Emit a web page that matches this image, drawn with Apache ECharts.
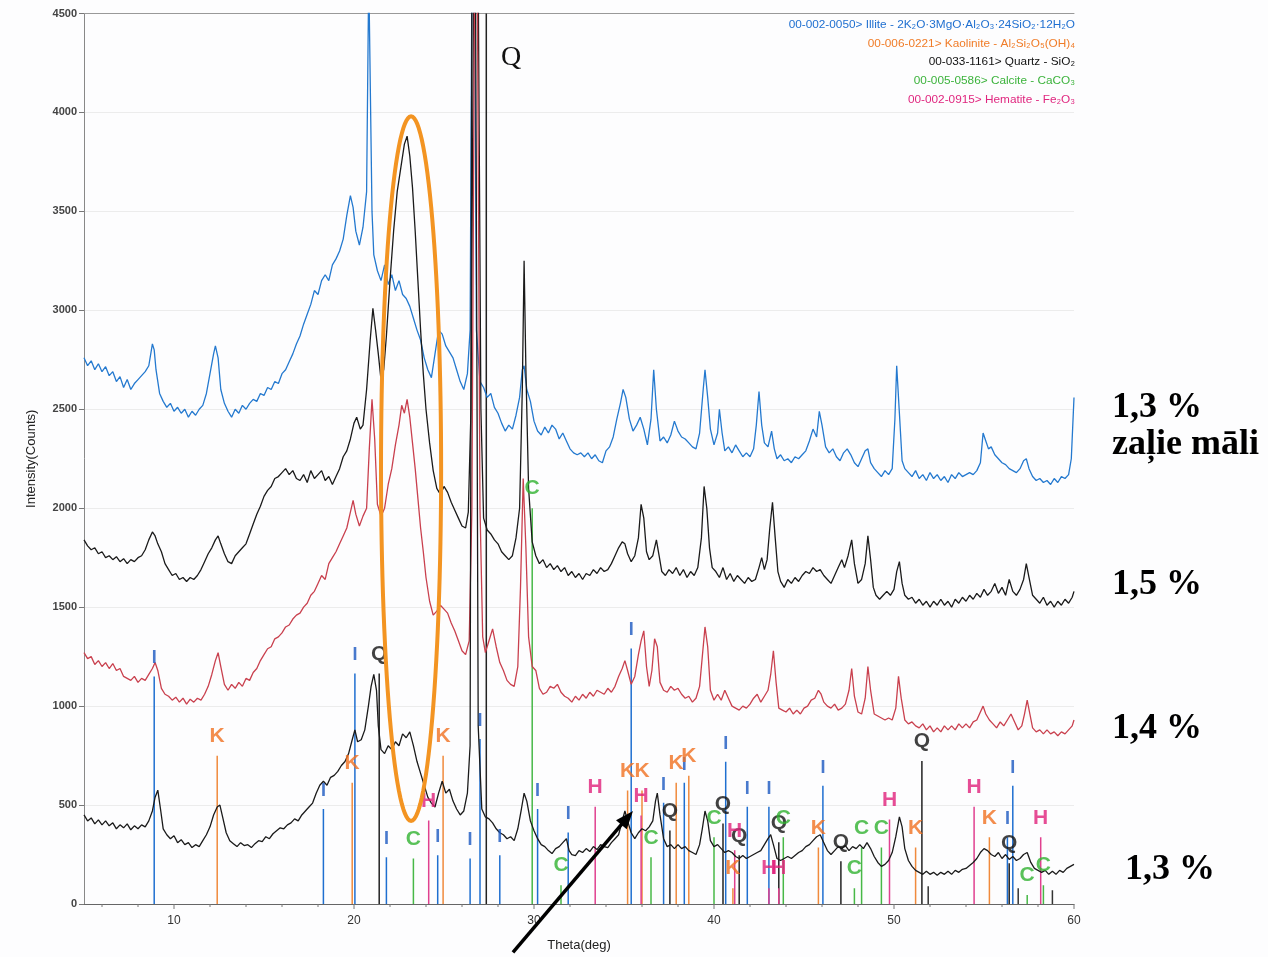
<!DOCTYPE html>
<html><head><meta charset="utf-8">
<script src="https://cdn.jsdelivr.net/npm/echarts/dist/echarts.min.js"></script>
<style>html,body{margin:0;padding:0;background:#fff}#c{width:1268px;height:957px}</style>
</head><body><div id="c"></div>
<script>
// ---- traces: [theta(deg), intensity(counts)] ----
const blueTrace = [[5.0,2760],[5.2,2720],[5.4,2745],[5.6,2700],[5.8,2730],[6.0,2690],[6.2,2715],[6.4,2670],[6.6,2690],[6.8,2640],[7.0,2665],[7.2,2610],[7.4,2650],[7.6,2600],[7.8,2630],[8.0,2650],[8.2,2670],[8.4,2690],[8.6,2720],[8.8,2830],[8.9,2800],[9.0,2700],[9.2,2580],[9.4,2540],[9.6,2510],[9.8,2530],[10.0,2490],[10.2,2510],[10.4,2480],[10.6,2500],[10.8,2460],[11.0,2490],[11.2,2470],[11.4,2500],[11.6,2520],[11.8,2580],[12.0,2680],[12.2,2780],[12.3,2820],[12.45,2760],[12.6,2600],[12.8,2530],[13.0,2490],[13.2,2460],[13.4,2500],[13.6,2480],[13.8,2520],[14.0,2500],[14.2,2530],[14.4,2550],[14.6,2540],[14.8,2580],[15.0,2570],[15.2,2610],[15.4,2600],[15.6,2640],[15.8,2630],[16.0,2680],[16.2,2700],[16.4,2740],[16.6,2780],[16.8,2830],[17.0,2870],[17.2,2930],[17.4,2980],[17.6,3030],[17.8,3100],[18.0,3080],[18.2,3150],[18.4,3180],[18.6,3150],[18.8,3230],[19.0,3260],[19.2,3300],[19.4,3360],[19.6,3480],[19.8,3580],[19.95,3520],[20.1,3400],[20.3,3330],[20.5,3420],[20.7,3600],[20.82,4700],[20.9,4700],[21.0,3500],[21.1,3280],[21.3,3200],[21.5,3150],[21.7,3230],[21.9,3130],[22.1,3180],[22.3,3100],[22.5,3150],[22.7,3080],[22.9,3060],[23.1,3020],[23.3,2960],[23.5,2900],[23.7,2850],[23.9,2760],[24.1,2700],[24.3,2660],[24.5,2780],[24.7,2900],[24.9,2880],[25.1,2820],[25.3,2790],[25.5,2760],[25.7,2700],[25.9,2640],[26.1,2600],[26.3,2680],[26.45,2900],[26.55,4700],[26.7,4700],[26.8,2900],[27.0,2640],[27.2,2610],[27.4,2560],[27.6,2580],[27.8,2510],[28.0,2480],[28.2,2430],[28.4,2390],[28.6,2420],[28.8,2400],[29.0,2470],[29.2,2560],[29.35,2700],[29.45,2720],[29.6,2600],[29.8,2540],[30.0,2440],[30.2,2390],[30.4,2370],[30.6,2410],[30.8,2380],[31.0,2420],[31.2,2400],[31.4,2350],[31.6,2380],[31.8,2340],[32.0,2300],[32.2,2280],[32.4,2270],[32.6,2280],[32.8,2260],[33.0,2280],[33.2,2250],[33.4,2270],[33.6,2240],[33.8,2230],[34.0,2290],[34.2,2310],[34.4,2360],[34.6,2450],[34.8,2530],[34.95,2600],[35.1,2560],[35.3,2450],[35.5,2390],[35.7,2420],[35.9,2460],[36.1,2400],[36.3,2320],[36.5,2450],[36.65,2700],[36.8,2500],[37.0,2340],[37.2,2360],[37.4,2330],[37.6,2370],[37.8,2440],[38.0,2390],[38.2,2360],[38.4,2350],[38.6,2330],[38.8,2310],[39.0,2300],[39.2,2380],[39.4,2600],[39.5,2700],[39.65,2560],[39.8,2400],[40.0,2320],[40.2,2380],[40.3,2500],[40.45,2380],[40.6,2290],[40.8,2310],[41.0,2280],[41.2,2320],[41.4,2290],[41.6,2260],[41.8,2280],[42.0,2260],[42.2,2300],[42.35,2420],[42.5,2590],[42.65,2420],[42.8,2330],[43.0,2310],[43.2,2390],[43.35,2300],[43.5,2250],[43.7,2270],[43.9,2240],[44.1,2250],[44.3,2230],[44.5,2260],[44.7,2250],[44.9,2270],[45.1,2290],[45.3,2340],[45.5,2400],[45.7,2360],[45.85,2490],[46.0,2420],[46.2,2310],[46.4,2280],[46.6,2300],[46.8,2260],[47.0,2240],[47.2,2280],[47.4,2300],[47.6,2270],[47.8,2230],[48.0,2210],[48.2,2250],[48.4,2290],[48.55,2300],[48.7,2230],[48.9,2200],[49.1,2180],[49.3,2160],[49.5,2190],[49.7,2170],[49.9,2200],[50.05,2450],[50.15,2720],[50.3,2480],[50.45,2240],[50.6,2200],[50.8,2180],[51.0,2160],[51.2,2190],[51.4,2150],[51.6,2170],[51.8,2140],[52.0,2180],[52.2,2150],[52.4,2170],[52.6,2140],[52.8,2160],[53.0,2130],[53.2,2170],[53.4,2150],[53.6,2180],[53.8,2160],[54.0,2170],[54.2,2180],[54.4,2170],[54.6,2190],[54.8,2230],[54.95,2380],[55.1,2340],[55.25,2300],[55.4,2310],[55.6,2270],[55.8,2250],[56.0,2230],[56.2,2220],[56.4,2200],[56.6,2190],[56.8,2180],[57.0,2200],[57.2,2240],[57.35,2250],[57.5,2200],[57.7,2160],[57.9,2140],[58.1,2150],[58.3,2130],[58.5,2140],[58.7,2120],[58.9,2150],[59.1,2130],[59.3,2160],[59.5,2150],[59.7,2170],[59.85,2250],[60.0,2560]];

const black15Trace = [[5.0,1840],[5.2,1810],[5.4,1790],[5.6,1800],[5.8,1770],[6.0,1780],[6.2,1750],[6.4,1760],[6.6,1740],[6.8,1755],[7.0,1730],[7.2,1745],[7.4,1720],[7.6,1740],[7.8,1730],[8.0,1750],[8.2,1760],[8.4,1790],[8.6,1840],[8.8,1880],[8.95,1860],[9.1,1820],[9.3,1780],[9.5,1720],[9.7,1690],[9.9,1660],[10.1,1670],[10.3,1640],[10.5,1650],[10.7,1630],[10.9,1650],[11.1,1640],[11.3,1660],[11.5,1690],[11.7,1730],[11.9,1770],[12.1,1800],[12.3,1840],[12.45,1860],[12.6,1820],[12.8,1770],[13.0,1730],[13.2,1720],[13.4,1760],[13.6,1780],[13.8,1800],[14.0,1820],[14.2,1870],[14.4,1920],[14.6,1970],[14.8,2010],[15.0,2060],[15.2,2090],[15.4,2110],[15.6,2150],[15.8,2160],[16.0,2180],[16.2,2200],[16.4,2170],[16.6,2190],[16.8,2150],[17.0,2140],[17.2,2170],[17.4,2130],[17.6,2190],[17.8,2150],[18.0,2170],[18.2,2190],[18.4,2140],[18.6,2160],[18.8,2120],[19.0,2160],[19.2,2200],[19.4,2260],[19.6,2290],[19.8,2350],[20.0,2430],[20.15,2460],[20.35,2400],[20.5,2420],[20.7,2600],[20.9,2850],[21.05,3010],[21.2,2900],[21.35,2780],[21.5,2650],[21.65,2700],[21.8,2870],[22.0,3150],[22.2,3400],[22.4,3600],[22.6,3720],[22.8,3840],[22.95,3880],[23.1,3780],[23.25,3620],[23.4,3400],[23.55,3150],[23.7,2900],[23.85,2680],[24.0,2500],[24.2,2330],[24.4,2190],[24.6,2100],[24.8,2070],[25.0,2110],[25.2,2080],[25.4,2030],[25.6,1990],[25.8,1950],[26.0,1910],[26.2,1900],[26.35,1980],[26.5,2500],[26.65,4700],[26.9,4700],[27.05,2500],[27.2,1950],[27.4,1890],[27.6,1870],[27.8,1840],[28.0,1820],[28.2,1780],[28.4,1760],[28.6,1740],[28.8,1760],[29.0,1850],[29.2,2000],[29.35,2600],[29.45,3250],[29.55,2700],[29.7,2100],[29.9,1830],[30.1,1760],[30.3,1720],[30.5,1740],[30.7,1700],[30.9,1720],[31.1,1690],[31.3,1710],[31.5,1680],[31.7,1700],[31.9,1660],[32.1,1680],[32.3,1650],[32.5,1670],[32.7,1640],[32.9,1670],[33.1,1660],[33.3,1690],[33.5,1670],[33.7,1700],[33.9,1680],[34.1,1690],[34.3,1720],[34.5,1760],[34.7,1800],[34.9,1830],[35.05,1820],[35.2,1770],[35.4,1730],[35.6,1760],[35.8,1850],[35.95,2020],[36.1,1950],[36.25,1780],[36.4,1740],[36.6,1760],[36.8,1840],[36.95,1760],[37.1,1680],[37.3,1660],[37.5,1690],[37.7,1670],[37.9,1700],[38.1,1660],[38.3,1690],[38.5,1650],[38.7,1680],[38.9,1660],[39.1,1700],[39.3,1850],[39.45,2110],[39.6,2000],[39.75,1800],[39.9,1700],[40.1,1680],[40.3,1650],[40.5,1700],[40.7,1640],[40.9,1670],[41.1,1630],[41.3,1660],[41.5,1640],[41.7,1620],[41.9,1650],[42.1,1630],[42.3,1640],[42.5,1700],[42.65,1750],[42.8,1690],[42.95,1740],[43.1,1900],[43.25,2030],[43.4,1850],[43.55,1680],[43.7,1630],[43.9,1600],[44.1,1640],[44.3,1620],[44.5,1650],[44.7,1630],[44.9,1660],[45.1,1680],[45.3,1670],[45.5,1700],[45.7,1680],[45.9,1690],[46.1,1660],[46.3,1640],[46.5,1620],[46.7,1660],[46.9,1700],[47.1,1740],[47.25,1700],[47.45,1760],[47.65,1840],[47.8,1720],[48.0,1620],[48.2,1640],[48.4,1720],[48.55,1860],[48.7,1740],[48.85,1600],[49.0,1560],[49.2,1540],[49.4,1560],[49.6,1580],[49.8,1560],[50.0,1590],[50.15,1680],[50.3,1730],[50.45,1620],[50.6,1560],[50.8,1540],[51.0,1550],[51.2,1520],[51.4,1540],[51.6,1510],[51.8,1530],[52.0,1500],[52.2,1530],[52.4,1510],[52.6,1540],[52.8,1510],[53.0,1530],[53.2,1500],[53.4,1540],[53.6,1520],[53.8,1550],[54.0,1530],[54.2,1560],[54.4,1540],[54.6,1570],[54.8,1550],[55.0,1590],[55.2,1560],[55.4,1580],[55.6,1620],[55.8,1570],[56.0,1600],[56.2,1560],[56.4,1640],[56.6,1580],[56.8,1560],[57.0,1590],[57.2,1640],[57.35,1720],[57.5,1650],[57.7,1560],[57.9,1540],[58.1,1520],[58.3,1550],[58.5,1510],[58.7,1530],[58.9,1500],[59.1,1530],[59.3,1510],[59.5,1540],[59.7,1520],[59.9,1550],[60.0,1580]];

const red14Trace = [[5.0,1270],[5.2,1240],[5.4,1250],[5.6,1210],[5.8,1230],[6.0,1200],[6.2,1220],[6.4,1190],[6.6,1215],[6.8,1180],[7.0,1190],[7.2,1150],[7.4,1140],[7.6,1130],[7.8,1150],[8.0,1120],[8.2,1140],[8.4,1130],[8.6,1160],[8.8,1190],[8.95,1220],[9.1,1180],[9.3,1090],[9.5,1060],[9.7,1050],[9.9,1030],[10.1,1045],[10.3,1020],[10.5,1040],[10.7,1010],[10.9,1035],[11.1,1020],[11.3,1040],[11.5,1030],[11.7,1060],[11.9,1100],[12.1,1160],[12.3,1230],[12.45,1270],[12.6,1200],[12.8,1110],[13.0,1080],[13.2,1110],[13.4,1090],[13.6,1120],[13.8,1100],[14.0,1140],[14.2,1130],[14.4,1170],[14.6,1190],[14.8,1230],[15.0,1260],[15.2,1290],[15.4,1300],[15.6,1340],[15.8,1350],[16.0,1370],[16.2,1400],[16.4,1410],[16.6,1440],[16.8,1460],[17.0,1470],[17.2,1500],[17.4,1520],[17.6,1560],[17.8,1580],[18.0,1620],[18.2,1660],[18.4,1640],[18.6,1720],[18.8,1750],[19.0,1780],[19.2,1820],[19.4,1860],[19.6,1900],[19.8,1980],[19.95,2040],[20.1,1970],[20.3,1910],[20.5,1960],[20.7,2000],[20.85,2300],[21.0,2550],[21.15,2350],[21.3,2020],[21.5,1960],[21.7,2000],[21.9,2120],[22.1,2200],[22.3,2320],[22.5,2420],[22.65,2520],[22.8,2480],[22.95,2550],[23.1,2460],[23.25,2330],[23.4,2200],[23.55,2050],[23.7,1900],[23.85,1780],[24.0,1650],[24.2,1530],[24.4,1460],[24.6,1480],[24.8,1510],[25.0,1490],[25.2,1470],[25.4,1420],[25.6,1380],[25.8,1330],[26.0,1280],[26.2,1260],[26.4,1330],[26.55,2000],[26.7,4700],[26.85,4700],[27.0,2000],[27.15,1350],[27.3,1270],[27.5,1330],[27.7,1390],[27.9,1300],[28.1,1220],[28.3,1180],[28.5,1130],[28.7,1110],[28.9,1100],[29.1,1200],[29.25,1600],[29.4,2150],[29.55,1800],[29.7,1350],[29.9,1200],[30.1,1180],[30.3,1090],[30.5,1060],[30.7,1070],[30.9,1100],[31.1,1090],[31.3,1110],[31.5,1070],[31.7,1050],[31.9,1040],[32.1,1020],[32.3,1050],[32.5,1030],[32.7,1060],[32.9,1040],[33.1,1070],[33.3,1050],[33.5,1080],[33.7,1070],[33.9,1060],[34.1,1090],[34.3,1070],[34.5,1100],[34.7,1150],[34.9,1190],[35.05,1230],[35.2,1180],[35.4,1110],[35.6,1150],[35.8,1260],[35.95,1330],[36.1,1380],[36.25,1200],[36.4,1100],[36.55,1180],[36.7,1340],[36.85,1300],[37.0,1120],[37.2,1080],[37.4,1070],[37.6,1100],[37.8,1080],[38.0,1090],[38.2,1060],[38.4,1040],[38.6,1050],[38.8,1020],[39.0,1040],[39.2,1100],[39.35,1250],[39.5,1400],[39.65,1300],[39.8,1080],[40.0,1030],[40.2,1060],[40.4,1030],[40.6,1080],[40.8,1040],[41.0,1000],[41.2,990],[41.4,980],[41.6,1000],[41.8,990],[42.0,1010],[42.2,1040],[42.4,1060],[42.6,1020],[42.8,1050],[43.0,1080],[43.15,1160],[43.3,1280],[43.45,1120],[43.6,990],[43.8,980],[44.0,970],[44.2,990],[44.4,960],[44.6,980],[44.8,960],[45.0,990],[45.2,1000],[45.4,1030],[45.6,1040],[45.8,1080],[45.95,1060],[46.1,1020],[46.3,1000],[46.5,990],[46.7,1010],[46.9,980],[47.1,990],[47.3,1010],[47.5,1080],[47.65,1190],[47.8,1050],[48.0,970],[48.2,960],[48.4,1040],[48.55,1200],[48.7,1080],[48.9,960],[49.1,950],[49.3,940],[49.5,930],[49.7,940],[49.9,930],[50.1,990],[50.25,1150],[50.4,1040],[50.6,930],[50.8,910],[51.0,920],[51.2,900],[51.4,890],[51.6,910],[51.8,880],[52.0,900],[52.2,870],[52.4,890],[52.6,870],[52.8,900],[53.0,880],[53.2,900],[53.4,880],[53.6,910],[53.8,890],[54.0,910],[54.2,890],[54.4,920],[54.6,930],[54.8,970],[54.95,1000],[55.1,960],[55.3,930],[55.5,910],[55.7,890],[55.9,920],[56.1,900],[56.3,930],[56.5,960],[56.7,920],[56.9,880],[57.1,900],[57.25,960],[57.4,1030],[57.55,960],[57.7,890],[57.9,870],[58.1,880],[58.3,860],[58.5,880],[58.7,860],[58.9,870],[59.1,850],[59.3,870],[59.5,860],[59.7,880],[59.9,900],[60.0,930]];

const black13Trace = [[5.0,450],[5.2,420],[5.4,435],[5.6,405],[5.8,425],[6.0,400],[6.2,420],[6.4,395],[6.6,410],[6.8,380],[7.0,400],[7.2,385],[7.4,405],[7.6,375],[7.8,395],[8.0,380],[8.2,400],[8.4,390],[8.6,420],[8.8,470],[8.95,540],[9.1,575],[9.25,480],[9.4,380],[9.6,350],[9.8,330],[10.0,345],[10.2,310],[10.4,325],[10.6,300],[10.8,310],[11.0,285],[11.2,300],[11.4,290],[11.6,320],[11.8,350],[12.0,390],[12.2,450],[12.4,490],[12.55,500],[12.7,440],[12.9,360],[13.1,320],[13.3,305],[13.5,290],[13.7,310],[13.9,295],[14.1,300],[14.3,285],[14.5,305],[14.7,320],[14.9,315],[15.1,340],[15.3,330],[15.5,355],[15.7,370],[15.9,385],[16.1,380],[16.3,400],[16.5,410],[16.7,430],[16.9,420],[17.1,450],[17.3,470],[17.5,490],[17.7,510],[17.9,560],[18.1,600],[18.3,620],[18.5,600],[18.7,640],[18.9,650],[19.1,670],[19.3,700],[19.5,720],[19.7,760],[19.9,830],[20.05,880],[20.2,820],[20.4,830],[20.6,880],[20.8,1000],[20.95,1100],[21.1,1160],[21.25,1080],[21.35,900],[21.5,780],[21.7,760],[21.9,800],[22.1,780],[22.3,820],[22.5,800],[22.7,860],[22.9,840],[23.1,870],[23.3,800],[23.5,720],[23.7,660],[23.9,600],[24.1,540],[24.3,510],[24.5,490],[24.7,560],[24.9,620],[25.1,560],[25.3,580],[25.5,520],[25.7,480],[25.9,450],[26.1,470],[26.3,560],[26.45,800],[26.55,4700],[26.75,4700],[26.9,900],[27.1,480],[27.3,440],[27.5,430],[27.7,410],[27.9,380],[28.1,360],[28.3,350],[28.5,330],[28.7,340],[28.9,320],[29.1,380],[29.3,480],[29.45,560],[29.6,520],[29.8,420],[30.0,370],[30.2,330],[30.4,300],[30.6,290],[30.8,270],[31.0,255],[31.2,280],[31.4,290],[31.6,310],[31.8,330],[31.95,270],[32.1,250],[32.3,245],[32.5,270],[32.7,260],[32.9,280],[33.1,265],[33.3,290],[33.5,275],[33.7,300],[33.9,290],[34.1,285],[34.3,310],[34.5,330],[34.7,350],[34.9,420],[35.05,470],[35.2,420],[35.4,360],[35.6,330],[35.8,360],[36.0,380],[36.2,370],[36.4,390],[36.6,420],[36.75,520],[36.85,560],[37.0,450],[37.2,330],[37.4,290],[37.6,300],[37.8,280],[38.0,300],[38.2,280],[38.4,290],[38.6,270],[38.8,260],[39.0,250],[39.2,300],[39.35,380],[39.5,470],[39.65,420],[39.8,320],[40.0,290],[40.2,300],[40.4,280],[40.6,260],[40.8,270],[41.0,260],[41.2,240],[41.4,230],[41.6,245],[41.8,230],[42.0,240],[42.2,250],[42.4,260],[42.6,270],[42.8,300],[43.0,330],[43.15,350],[43.3,300],[43.5,230],[43.7,220],[43.9,230],[44.1,240],[44.3,230],[44.5,245],[44.7,260],[44.9,270],[45.1,290],[45.3,300],[45.5,320],[45.7,340],[45.9,350],[46.1,310],[46.3,270],[46.5,250],[46.7,270],[46.9,290],[47.1,280],[47.3,295],[47.5,270],[47.7,290],[47.9,280],[48.1,300],[48.3,280],[48.5,310],[48.7,280],[48.9,240],[49.1,210],[49.3,190],[49.5,200],[49.7,220],[49.9,260],[50.1,340],[50.3,440],[50.45,390],[50.6,280],[50.8,220],[51.0,190],[51.2,170],[51.4,160],[51.6,150],[51.8,165],[52.0,150],[52.2,160],[52.4,145],[52.6,160],[52.8,150],[53.0,165],[53.2,150],[53.4,170],[53.6,160],[53.8,175],[54.0,180],[54.2,195],[54.4,210],[54.6,230],[54.8,260],[55.0,280],[55.2,270],[55.4,250],[55.6,240],[55.8,260],[56.0,230],[56.2,250],[56.4,225],[56.6,240],[56.8,220],[57.0,230],[57.2,250],[57.4,260],[57.6,210],[57.8,180],[58.0,170],[58.2,160],[58.4,170],[58.6,150],[58.8,165],[59.0,150],[59.2,170],[59.4,160],[59.6,180],[59.8,190],[60.0,200]];

// ---- reference sticks: [theta, height] ----
const illiteSticks = [[8.9,1150],[18.3,480],[20.05,1165],[21.8,236],[24.65,246],[26.45,230],[27.0,834],[28.1,246],[30.2,480],[31.9,361],[35.4,1291],[37.2,512],[38.35,613],[40.65,719],[41.85,492],[43.05,492],[46.05,598],[56.3,337],[56.6,598]];
const kaoliniteSticks = [[12.4,749],[19.9,613],[24.95,749],[35.2,573],[36.0,573],[37.9,613],[38.6,648],[41.05,80],[45.8,286],[51.2,286],[55.3,337]];
const quartzSticks = [[21.4,1165],[27.35,6000],[37.55,372],[40.5,407],[41.4,246],[43.6,312],[47.05,216],[51.55,723],[56.4,206]];
const quartzMinorSticks = [[51.9,90],[56.9,80],[58.8,70]];
const calciteSticks = [[23.3,230],[29.9,2000],[31.5,95],[36.5,236],[40.0,337],[43.85,337],[47.8,80],[48.2,286],[49.3,286],[57.4,45],[58.3,95]];
const hematiteSticks = [[24.15,422],[33.4,492],[35.95,447],[41.15,271],[43.05,80],[43.6,80],[49.75,427],[54.45,492],[58.15,337]];

// ---- axis tick values, legend and side texts ----
const xTickValues = [6,8,10,12,14,16,18,20,22,24,26,28,30,32,34,36,38,40,42,44,46,48,50,52,54,56,58,60];
const legendLines = [
  ['00-002-0050> Illite - 2K\u2082O\u00b73MgO\u00b7Al\u2082O\u2083\u00b724SiO\u2082\u00b712H\u2082O', '#1f6fd0'],
  ['00-006-0221> Kaolinite - Al\u2082Si\u2082O\u2085(OH)\u2084', '#f07c28'],
  ['00-033-1161> Quartz - SiO\u2082', '#111111'],
  ['00-005-0586> Calcite - CaCO\u2083', '#3cb33c'],
  ['00-002-0915> Hematite - Fe\u2082O\u2083', '#e0267f']
];
const sampleLabels = ['1,3 %', 'za\u013cie m\u0101li', '1,5 %', '1,4 %', '1,3 %'];
// annotations: ellipse [centerTheta, centerCounts, radiusTheta, radiusCounts], arrow [tailTheta, tailCounts, tipTheta, tipCounts]
const ellipseNote = [[23.17, 2200, 1.67, 1780]];
const arrowNote = [[28.83, -245, 35.5, 470]];

const chart = echarts.init(document.getElementById('c'), null, {renderer:'canvas'});
const FONT = '"Liberation Sans", Arial, sans-serif';

function stickRender(color){
  return function(params, api){
    const x = api.value(0), h = api.value(1);
    const p0 = api.coord([x,0]), p1 = api.coord([x,h]);
    return {type:'line', shape:{x1:p0[0],y1:p0[1],x2:p1[0],y2:p1[1]}, style:{stroke:color, lineWidth:1.5}};
  };
}
function stickSeries(data, color){
  return {type:'custom', data, clip:true, silent:true, z:1, renderItem: stickRender(color)};
}
function labelSeries(data, letter, color, size, weight){
  return {type:'scatter', data, symbolSize:0.1, silent:true, z:6,
    itemStyle:{color:'transparent'},
    label:{show:true, position:'top', distance:9, formatter:letter, color, fontSize:size, fontWeight:weight||'normal', fontFamily:FONT}};
}
function traceSeries(data, color){
  return {type:'line', data, showSymbol:false, symbol:'none', clip:true, silent:true, z:3,
    lineStyle:{color, width:1.3}};
}

const series = [
  stickSeries(illiteSticks, '#1f6fd0'),
  stickSeries(kaoliniteSticks, '#f08a3c'),
  stickSeries(quartzSticks, '#222222'),
  stickSeries(quartzMinorSticks, '#333333'),
  stickSeries(calciteSticks, '#47b847'),
  stickSeries(hematiteSticks, '#e0408f'),
  traceSeries(blueTrace, '#2479cf'),
  traceSeries(black15Trace, '#1a1a1a'),
  traceSeries(red14Trace, '#c9404e'),
  traceSeries(black13Trace, '#1a1a1a'),
  labelSeries(illiteSticks, 'I', '#1a58c0', 18, 'bold'),
  labelSeries(kaoliniteSticks, 'K', '#f07020', 21, 'bold'),
  labelSeries(quartzSticks.filter(d => d[1] < 4500), 'Q', '#111111', 21, 'bold'),
  labelSeries(calciteSticks, 'C', '#2fb12f', 21, 'bold'),
  labelSeries(hematiteSticks, 'H', '#e0207a', 21, 'bold'),
  {type:'custom', clip:false, silent:true, z:2, data: xTickValues.map(v => [v, 0]),
    renderItem(params, api){
      const v = api.value(0); const p = api.coord([v,0]);
      const big = v % 10 === 0;
      return {type:'line', shape:{x1:p[0],y1:p[1],x2:p[0],y2:p[1]+(big?5:3)}, style:{stroke:'#777', lineWidth:1}};
    }},
  {type:'custom', clip:false, silent:true, z:8, data: ellipseNote,
    renderItem(params, api){
      const cx = api.value(0), cy = api.value(1), rx = api.value(2), ry = api.value(3);
      const pts = [];
      for (let i = 0; i <= 120; i++){
        const t = i / 120 * Math.PI * 2;
        pts.push(api.coord([cx + rx*Math.cos(t), cy + ry*Math.sin(t)]));
      }
      return {type:'polyline', shape:{points:pts}, style:{stroke:'#f39422', lineWidth:4, fill:null}};
    }},
  {type:'custom', clip:false, silent:true, z:9, data: arrowNote,
    renderItem(params, api){
      const a = api.coord([api.value(0), api.value(1)]);
      const b = api.coord([api.value(2), api.value(3)]);
      const dx = b[0]-a[0], dy = b[1]-a[1], L = Math.hypot(dx,dy);
      const ux = dx/L, uy = dy/L, nx = -uy, ny = ux;
      const hl = 18, hw = 7;
      const base = [b[0]-ux*hl, b[1]-uy*hl];
      return {type:'group', children:[
        {type:'line', shape:{x1:a[0],y1:a[1],x2:base[0]+ux*2,y2:base[1]+uy*2}, style:{stroke:'#000', lineWidth:3.5}},
        {type:'polygon', shape:{points:[b,[base[0]+nx*hw, base[1]+ny*hw],[base[0]-nx*hw, base[1]-ny*hw]]}, style:{fill:'#000'}}
      ]};
    }}
];

const graphic = [];
legendLines.forEach((l, i) => {
  graphic.push({type:'text', right: 193, top: 19 + i*18.6,
    style:{text:l[0], fill:l[1], font:'11.8px ' + FONT, textAlign:'right'}});
});
const sampleY = [410, 447, 587, 731, 872];
const sampleX = [1112, 1112, 1112, 1112, 1125];
sampleLabels.forEach((t, i) => {
  graphic.push({type:'text', left: sampleX[i], top: sampleY[i] - 20,
    style:{text:t, fill:'#000', font:'bold 36px "Liberation Serif", "Times New Roman", serif'}});
});
graphic.push({type:'text', left: 501, top: 44, style:{text:'Q', fill:'#111', font:'28px "Liberation Serif", "Times New Roman", serif'}});

chart.setOption({
  backgroundColor:'#fdfdfe',
  animation:false,
  grid:{left:84, right:194, top:13.5, bottom:48},
  xAxis:[{type:'value', min:5, max:60, interval:5,
    name:'Theta(deg)', nameLocation:'middle', nameGap:35,
    nameTextStyle:{fontSize:13, color:'#222', fontFamily:FONT},
    axisLine:{show:true, lineStyle:{color:'#666', width:1}},
    axisTick:{show:false},
    splitLine:{show:false},
    axisLabel:{fontSize:12, color:'#333', fontFamily:FONT, margin:11,
      formatter: v => (v % 10 === 0 ? String(v) : '')}
  },{type:'value', position:'top', min:5, max:60, axisLine:{show:true, lineStyle:{color:'#999'}}, axisTick:{show:false}, axisLabel:{show:false}, splitLine:{show:false}}],
  yAxis:{type:'value', min:0, max:4500, interval:500,
    name:'Intensity(Counts)', nameLocation:'middle', nameGap:46,
    nameTextStyle:{fontSize:13, color:'#222', fontFamily:FONT},
    axisLine:{show:true, lineStyle:{color:'#888'}},
    axisTick:{show:true, length:5, lineStyle:{color:'#777'}},
    splitLine:{show:true, lineStyle:{color:'#ececec', width:1}},
    axisLabel:{fontSize:11, fontWeight:'bold', color:'#444', fontFamily:FONT, margin:7,
      formatter: v => String(v)}
  },
  series,
  graphic
});
</script></body></html>
